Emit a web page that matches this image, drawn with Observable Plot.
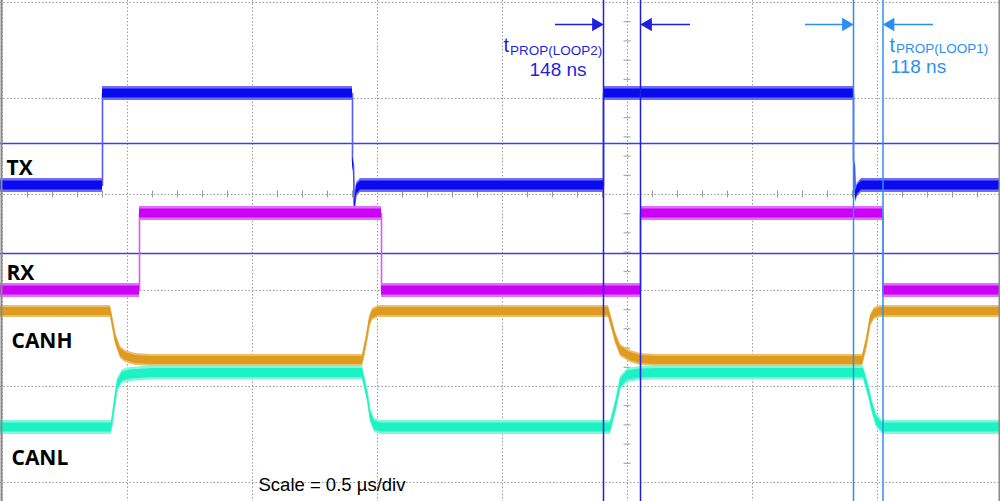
<!DOCTYPE html>
<html><head><meta charset="utf-8">
<script src="https://cdn.jsdelivr.net/npm/d3@7"></script>
<script src="https://cdn.jsdelivr.net/npm/@observablehq/plot@0.6"></script>
<style>body{margin:0;background:#fff;} #chart svg{display:block}</style>
</head><body><div id="chart"></div>
<script>
// time in ns (0.5 µs/div), vertical position in divisions
const txT = [-8, 400, 400, 1400, 1400, 1404, 1408, 1416, 1432, 2404, 2404, 3404, 3404, 3408, 3412, 3420, 3436, 3992];
const txV = [3.094, 3.094, 4.052, 4.052, 3.354, 3.30, 2.865, 3.05, 3.094, 3.094, 4.052, 4.052, 3.354, 3.30, 2.99, 3.05, 3.094, 3.094];

const rxT = [-8, 548, 548, 1516, 1516, 2552, 2552, 3522, 3522, 3992];
const rxV = [2.0, 2.0, 2.802, 2.802, 2.0, 2.0, 2.802, 2.802, 2.0, 2.0];

const canhT = [-8, 432, 452, 472, 492, 532, 600, 1440, 1456, 1468, 1480, 1504, 2424, 2452, 2472, 2512, 2552, 2620, 3440, 3456, 3472, 3488, 3512, 3992];
const canhV = [1.781, 1.781, 1.5, 1.354, 1.3125, 1.281, 1.271, 1.271, 1.479, 1.667, 1.75, 1.781, 1.781, 1.510, 1.375, 1.3125, 1.281, 1.271, 1.271, 1.448, 1.6875, 1.760, 1.781, 1.781];

const canlT = [-8, 436, 448, 460, 480, 512, 600, 1440, 1460, 1472, 1488, 1512, 2432, 2456, 2472, 2500, 2552, 2620, 3444, 3464, 3480, 3496, 3520, 3992];
const canlV = [0.573, 0.573, 0.802, 1.010, 1.104, 1.125, 1.141, 1.141, 0.906, 0.698, 0.594, 0.573, 0.573, 0.823, 1.031, 1.115, 1.135, 1.141, 1.141, 0.958, 0.781, 0.646, 0.573, 0.573];

const cursorsLoop2 = [2404, 2552];
const cursorsLoop1 = [3404, 3522];
const hCursors = [3.531, 2.385];

const gridT = [0, 500, 1000, 1500, 2000, 2500, 3000, 3500];
const gridV = [0, 1, 2, 3, 4, 5];

const traceLabels = ["TX", "RX", "CANH", "CANL"];
const traceLabelT = [16, 16, 36, 36];
const traceLabelV = [3.276, 2.182, 1.474, 0.255];

const measName = ["PROP(LOOP2)", "PROP(LOOP1)"];
const measValue = ["148 ns", "118 ns"];
const scaleText = "Scale = 0.5 µs/div";

// build tables
const zip = (T, V) => T.map((t, i) => ({t, v: V[i]}));
const traces = [
  {data: zip(txT, txV), fill: "#0a0aee", fringe: "#6f6ff6", edge: "#5a5af5", outer: 7, inner: 4.5},
  {data: zip(rxT, rxV), fill: "#cc00f5", fringe: "#df70fa", edge: "#d65af7", outer: 7, inner: 4.5},
  {data: zip(canhT, canhV), fill: "#df9b1f", fringe: "#ebbe6c", edge: "#e3a53a", outer: 6, inner: 4},
  {data: zip(canlT, canlV), fill: "#1cf2c4", fringe: "#80f7dd", edge: "#3af3cc", outer: 7, inner: 4.5}
];
const PX = 1 / 96; // one pixel in divisions
const labels = traceLabels.map((text, i) => ({text, t: traceLabelT[i], v: traceLabelV[i]}));
const hTicks = d3.range(0, 4000, 100).filter(d => d % 500 !== 0);
const vTicks = d3.range(1, 26).map(d => d * 0.2).filter(d => Math.abs(d - Math.round(d)) > 1e-6);

const dark = "#1f1fe0", light = "#2b8ff0";
const marks = [
  Plot.ruleX(gridT, {stroke: "#9a9a9a", strokeDasharray: "1.5,2"}),
  Plot.ruleY(gridV, {stroke: "#9a9a9a", strokeDasharray: "1.5,2"}),
  Plot.ruleX(hTicks, {x: d => d, y1: 3 - 3.5 * PX, y2: 3 + 3.5 * PX, stroke: "#9a9a9a"}),
  Plot.ruleY(vTicks, {y: d => d, x1: 2500 - 14, x2: 2500 + 14, stroke: "#9a9a9a"}),
  Plot.ruleY(hCursors, {stroke: "#3c3cff", strokeWidth: 1.6})
];
for (const tr of traces) {
  marks.push(
    Plot.line(tr.data, {x: "t", y: "v", stroke: tr.edge, strokeWidth: 1.6}),
    Plot.areaY(tr.data, {x: "t", y1: d => d.v - tr.outer * PX, y2: d => d.v + tr.outer * PX, fill: tr.fringe}),
    Plot.areaY(tr.data, {x: "t", y1: d => d.v - tr.inner * PX, y2: d => d.v + tr.inner * PX, fill: tr.fill})
  );
}
const arrowY = 4.771;
const arrows = [
  {x1: 2212, x2: cursorsLoop2[0], c: dark, dir: 1},
  {x1: 2752, x2: cursorsLoop2[1], c: dark, dir: -1},
  {x1: 3212, x2: cursorsLoop1[0], c: light, dir: 1},
  {x1: 3724, x2: cursorsLoop1[1], c: light, dir: -1}
];
marks.push(
  Plot.ruleX(cursorsLoop2, {stroke: dark, strokeWidth: 1.5}),
  Plot.ruleX(cursorsLoop1, {stroke: light, strokeWidth: 1.5}),
  Plot.ruleY(arrows, {x1: "x1", x2: d => d.x2 - d.dir * 20, y: arrowY, stroke: "c", strokeWidth: 1.5}),
  Plot.dot(arrows.filter(d => d.dir > 0), {x: "x2", y: arrowY, dx: -7.5, symbol: "triangle", rotate: 90, r: 5, fill: "c", stroke: "none"}),
  Plot.dot(arrows.filter(d => d.dir < 0), {x: "x2", y: arrowY, dx: 7.5, symbol: "triangle", rotate: -90, r: 5, fill: "c", stroke: "none"}),
  Plot.text(labels, {x: "t", y: "v", text: "text", textAnchor: "start", fontSize: 21, fontWeight: 700, fontFamily: "Open Sans", fill: "#000"}),
  Plot.text(["t"], {x: 2004, y: 4.547, textAnchor: "start", fontSize: 20, fontFamily: "Liberation Sans", fill: dark}),
  Plot.text([measName[0]], {x: 2030, y: 4.5, textAnchor: "start", fontSize: 13.5, fontFamily: "Liberation Sans", fill: dark}),
  Plot.text([measValue[0]], {x: 2108, y: 4.297, textAnchor: "start", fontSize: 19, fontFamily: "Liberation Sans", fill: dark}),
  Plot.text(["t"], {x: 3548, y: 4.552, textAnchor: "start", fontSize: 20, fontFamily: "Liberation Sans", fill: light}),
  Plot.text([measName[1]], {x: 3574, y: 4.521, textAnchor: "start", fontSize: 13.5, fontFamily: "Liberation Sans", fill: light}),
  Plot.text([measValue[1]], {x: 3552, y: 4.333, textAnchor: "start", fontSize: 19, fontFamily: "Liberation Sans", fill: light}),
  Plot.text([scaleText], {x: 1024, y: -0.031, textAnchor: "start", fontSize: 18.5, fontFamily: "Liberation Sans", fill: "#000"}),
  Plot.ruleX([-4, 3988], {stroke: "#8a8a8a", strokeWidth: 2})
);

const plot = Plot.plot({
  width: 1000, height: 501, margin: 0,
  x: {domain: [-8, 3992], axis: null},
  y: {domain: [-0.198, 5.021], axis: null},
  style: {background: "#fff", overflow: "hidden"},
  marks
});
document.getElementById("chart").append(plot);
</script>
</body></html>
